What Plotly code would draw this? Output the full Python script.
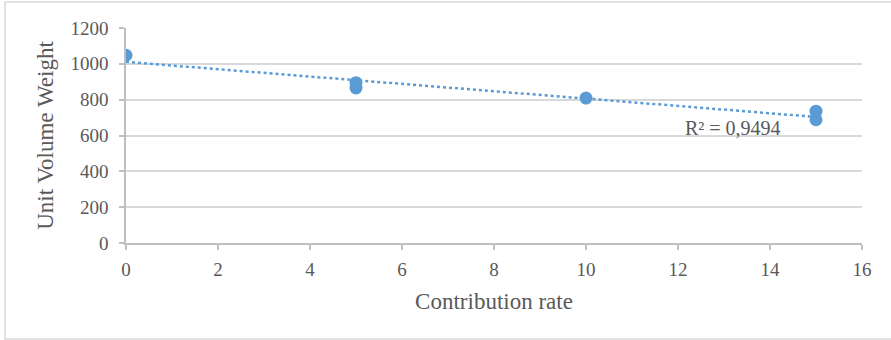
import numpy as np
import plotly.graph_objects as go

# Data
contribution_rate = [0, 5, 5, 10, 15, 15]
unit_volume_weight = [1048, 895, 865, 809, 736, 688]
r2_label = "R² = 0,9494"
x_ticks = [0, 2, 4, 6, 8, 10, 12, 14, 16]
y_ticks = [0, 200, 400, 600, 800, 1000, 1200]

blue = "#5b9bd5"
grey_text = "#595959"
FONT = "Liberation Serif, Times New Roman, serif"

# Linear trendline derived from the data
slope, intercept = np.polyfit(contribution_rate, unit_volume_weight, 1)
tx = [min(contribution_rate), max(contribution_rate)]
ty = [intercept + slope * v for v in tx]

W, H = 891, 340
L, R, T, B = 126, 29, 28, 97
pw = W - L - R
ph = H - T - B

fig = go.Figure()
fig.add_trace(go.Scatter(
    x=tx, y=ty, mode="lines",
    line=dict(color=blue, width=2.5, dash="dot"),
    hoverinfo="skip", showlegend=False,
))
fig.add_trace(go.Scatter(
    x=contribution_rate, y=unit_volume_weight, mode="markers",
    marker=dict(color=blue, size=13),
    showlegend=False,
))

fig.add_annotation(
    x=13.2, y=642, xref="x", yref="y", text=r2_label, showarrow=False,
    font=dict(family=FONT, size=20, color=grey_text),
)

# outer light border
fig.add_shape(
    type="rect", xref="paper", yref="paper",
    x0=(5 - L) / pw, x1=(W + 10 - L) / pw,
    y0=(H - B - 339) / ph, y1=(H - B - 2) / ph,
    line=dict(color="#d9d9d9", width=1.5), fillcolor="rgba(0,0,0,0)",
    layer="below",
)

fig.update_layout(
    width=W, height=H,
    margin=dict(l=L, r=R, t=T, b=B),
    paper_bgcolor="white", plot_bgcolor="white",
    font=dict(family=FONT, color=grey_text, size=19),
    xaxis=dict(
        range=[0, 16], tickvals=x_ticks, ticktext=[str(v) for v in x_ticks],
        showgrid=False, zeroline=False,
        showline=True, linecolor="#bfbfbf", linewidth=1.5,
        ticks="outside", ticklen=5, tickcolor="#bfbfbf", tickwidth=1.5,
        ticklabelstandoff=3,
        tickfont=dict(family=FONT, size=19, color=grey_text),
        title=dict(text="Contribution rate", font=dict(family=FONT, size=23, color=grey_text), standoff=14),
    ),
    yaxis=dict(
        range=[0, 1200], tickvals=y_ticks, ticktext=[str(v) for v in y_ticks],
        showgrid=True, gridcolor="#d9d9d9", gridwidth=1.5, zeroline=False,
        showline=True, linecolor="#bfbfbf", linewidth=1.5,
        ticks="outside", ticklen=5, tickcolor="#bfbfbf", tickwidth=1.5,
        ticklabelstandoff=7,
        tickfont=dict(family=FONT, size=19, color=grey_text),
        title=dict(text="Unit Volume Weight", font=dict(family=FONT, size=23, color=grey_text), standoff=10),
    ),
)

fig.write_html("out.html")
